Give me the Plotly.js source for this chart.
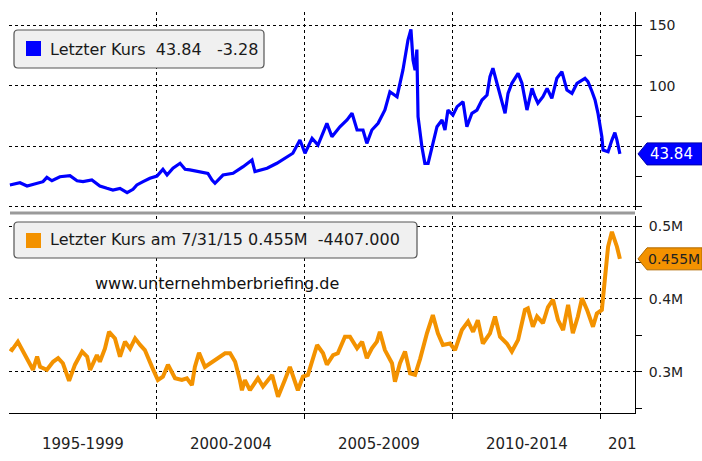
<!DOCTYPE html>
<html>
<head>
<meta charset="utf-8">
<script src="https://cdn.plot.ly/plotly-3.0.1.min.js"></script>
<style>html,body{margin:0;padding:0;background:#fff}#chart{width:702px;height:461px}</style>
</head>
<body>
<div id="chart"></div>
<script>
// ---- data ----
const priceYears = [1995.03,1995.37,1995.61,1995.95,1996.15,1996.28,1996.45,1996.72,1997.06,1997.30,1997.50,1997.80,1998.07,1998.31,1998.51,1998.75,1998.99,1999.19,1999.32,1999.53,1999.76,2000.00,2000.20,2000.34,2000.54,2000.78,2000.95,2001.11,2001.45,2001.72,2001.86,2001.96,2002.23,2002.57,2002.91,2003.21,2003.31,2003.72,2004.05,2004.39,2004.59,2004.83,2005.00,2005.24,2005.44,2005.74,2005.91,2006.18,2006.42,2006.59,2006.76,2006.96,2007.09,2007.26,2007.47,2007.70,2007.87,2008.11,2008.31,2008.48,2008.58,2008.65,2008.72,2008.78,2008.82,2008.95,2009.05,2009.16,2009.29,2009.46,2009.63,2009.73,2009.83,2010.00,2010.14,2010.34,2010.47,2010.64,2010.81,2010.98,2011.15,2011.25,2011.35,2011.49,2011.66,2011.76,2011.86,2011.99,2012.20,2012.33,2012.50,2012.67,2012.77,2012.87,2013.04,2013.18,2013.34,2013.51,2013.68,2013.85,2014.02,2014.19,2014.46,2014.56,2014.70,2014.80,2014.90,2015.03,2015.07,2015.24,2015.37,2015.47,2015.54,2015.64];
const price = [18.2,20,17.3,19.6,20.9,24.5,21.7,25,25.9,21.7,20.9,22.3,17.3,15.4,14,15.4,11.8,14.6,18.2,20.9,23.7,25.6,31.1,26.4,32,36.1,31.1,30.6,29.2,27.8,22.3,19.6,26.4,27.8,33.3,38.8,29.2,32,36.1,41.5,44.4,55.3,44.4,56.7,51.2,69.1,58.1,66.3,71.9,77.4,63.6,63.6,52.6,63.6,69.1,80.1,95.2,91.1,113.2,137.9,146.8,121.4,113,130,74.6,49.8,36.1,36.1,49.8,66.3,71.9,63.6,80.1,76,82.9,87,66.3,77.4,80.1,88.4,92.5,107.6,114.6,102.2,88.4,77.4,93.9,102.2,110.4,102.2,80.1,98,91.1,85.7,91.1,98,89.8,106.3,111.8,96.6,93.9,102.2,106.3,103.5,95.2,88.4,77.4,58.1,47.1,45.7,55.3,61.4,55.3,43.84];

const volYears = [1995.03,1995.10,1995.30,1995.47,1995.64,1995.81,1995.95,1996.05,1996.28,1996.49,1996.66,1996.82,1997.03,1997.23,1997.47,1997.64,1997.74,1997.97,1998.07,1998.24,1998.38,1998.58,1998.75,1998.92,1999.09,1999.26,1999.43,1999.59,1999.83,2000.03,2000.20,2000.37,2000.61,2000.84,2001.01,2001.18,2001.28,2001.42,2001.62,2001.79,2002.03,2002.30,2002.47,2002.64,2002.80,2002.87,2002.97,2003.14,2003.41,2003.58,2003.89,2004.09,2004.32,2004.49,2004.76,2004.93,2005.10,2005.41,2005.61,2005.74,2005.95,2006.11,2006.35,2006.52,2006.76,2006.93,2007.09,2007.26,2007.43,2007.53,2007.70,2007.94,2008.04,2008.21,2008.38,2008.55,2008.72,2008.89,2009.12,2009.32,2009.49,2009.66,2009.90,2010.07,2010.30,2010.51,2010.68,2010.84,2011.01,2011.25,2011.42,2011.59,2011.82,2011.99,2012.20,2012.43,2012.53,2012.70,2012.84,2013.04,2013.21,2013.38,2013.55,2013.72,2013.89,2014.05,2014.22,2014.36,2014.53,2014.73,2014.86,2015.03,2015.14,2015.24,2015.37,2015.54,2015.64];
const volume = [332000,330000,341500,328000,314000,303000,321000,307000,303000,314000,319000,312000,288000,310000,328000,321000,303000,323000,314000,332000,355000,346000,321000,341500,332000,346000,337000,330000,307000,289000,293600,310000,291400,289000,291400,282000,307000,326400,307000,312000,319000,325600,325600,314000,289000,275000,289000,275000,291400,280000,296000,266000,289000,307000,275000,293600,296000,337000,325600,310000,323000,325600,348400,348400,332500,341500,319000,332500,341500,355000,330000,312000,286700,312000,328000,298000,296000,318000,353000,378000,353000,337000,339000,330000,357500,369000,355000,371000,339000,353000,376000,348400,339000,328000,344000,385000,387000,362000,376000,367000,389000,399000,371000,357500,392000,353000,376000,401000,385000,362000,380000,385000,430500,471600,492000,471600,455000];

const periodMid = [1997.5,2002.5,2007.5,2012.5,2015.74];
const periodLabels = ['1995-1999','2000-2004','2005-2009','2010-2014','201'];
const gridYears = [2000,2005,2010,2015];

const priceTicks = [0,50,100,150];
const priceTickText = ['','','100','150'];
const priceMinor = [25,75,125];
const volTicks = [300000,400000,500000];
const volTickText = ['0.3M','0.4M','0.5M'];
const volMinor = [250000,350000,450000];

const priceName = 'Letzter Kurs';
const priceLast = '43.84';
const priceChange = '-3.28';
const volName = 'Letzter Kurs am 7/31/15';
const volLast = '0.455M';
const volChange = '-4407.000';
const watermark = 'www.unternehmberbriefing.de';

// ---- styling / layout ----
const W = 702, H = 461;
const BLUE = '#0000ff', ORANGE = '#f39200';
const FONT = 'DejaVu Sans, sans-serif';
const xL = 9, xR = 635;
const xRange = [1995.0, 2016.15];
const top1 = 12, bot1 = 210, top2 = 216, bot2 = 413;
const yRange1 = [-2.5, 161.1];
const yRange2 = [243800, 513700];

const px = x => x / W;
const py = y => 1 - y / H;
const pxPerYear = (xR - xL) / (xRange[1] - xRange[0]);
const px1 = (bot1 - top1) / (yRange1[1] - yRange1[0]);
const px2 = (bot2 - top2) / (yRange2[1] - yRange2[0]);
const triX = xRange[1] + 5 / pxPerYear;

function roundRect(x0, y0, x1, y1, r) {
  const P = (x, y) => px(x).toFixed(5) + ',' + py(y).toFixed(5);
  return 'M' + P(x0 + r, y0) + ' L' + P(x1 - r, y0) + ' Q' + P(x1, y0) + ' ' + P(x1, y0 + r) +
    ' L' + P(x1, y1 - r) + ' Q' + P(x1, y1) + ' ' + P(x1 - r, y1) +
    ' L' + P(x0 + r, y1) + ' Q' + P(x0, y1) + ' ' + P(x0, y1 - r) +
    ' L' + P(x0, y0 + r) + ' Q' + P(x0, y0) + ' ' + P(x0 + r, y0) + ' Z';
}
function priceTag(val, pxPerUnit) {
  const h = 11 / pxPerUnit;
  const P = (x, y) => px(x).toFixed(5) + ',' + y;
  return 'M' + P(638, val) + ' L' + P(647, val + h) + ' L' + P(702, val + h) +
    ' L' + P(702, val - h) + ' L' + P(647, val - h) + ' Z';
}

const lastPrice = price[price.length - 1];
const lastVol = volume[volume.length - 1];

const traces = [
  {x: priceYears, y: price, xaxis: 'x', yaxis: 'y', type: 'scatter', mode: 'lines',
   line: {color: BLUE, width: 3.2}, hoverinfo: 'skip'},
  {x: volYears, y: volume, xaxis: 'x2', yaxis: 'y2', type: 'scatter', mode: 'lines',
   line: {color: ORANGE, width: 4}, hoverinfo: 'skip'},
  {x: priceTicks.map(() => triX), y: priceTicks, xaxis: 'x', yaxis: 'y', type: 'scatter', mode: 'markers',
   marker: {symbol: 'triangle-right', size: 9, color: '#000'}, cliponaxis: false, hoverinfo: 'skip'},
  {x: volTicks.map(() => triX), y: volTicks, xaxis: 'x2', yaxis: 'y2', type: 'scatter', mode: 'markers',
   marker: {symbol: 'triangle-right', size: 9, color: '#000'}, cliponaxis: false, hoverinfo: 'skip'}
];

const gridStyle = {showgrid: true, gridcolor: '#000', griddash: 'dot', gridwidth: 1};
const tickFont = {family: FONT, size: 14, color: '#222'};

const layout = {
  width: W, height: H,
  margin: {l: 0, r: 0, t: 0, b: 0},
  paper_bgcolor: '#fff', plot_bgcolor: '#fff',
  showlegend: false,
  xaxis: Object.assign({domain: [px(xL), px(xR)], range: xRange, anchor: 'y', tickmode: 'array',
    tickvals: gridYears, showticklabels: false, ticks: '', zeroline: false, showline: false, fixedrange: true}, gridStyle),
  yaxis: Object.assign({domain: [py(bot1), py(top1)], range: yRange1, anchor: 'x', side: 'right',
    tickmode: 'array', tickvals: priceTicks, ticktext: priceTickText, ticks: 'outside', ticklen: 6, tickcolor: '#000',
    ticklabelstandoff: 4, tickfont: tickFont, showline: true, linecolor: '#000', linewidth: 1, zeroline: false,
    minor: {tickmode: 'array', tickvals: priceMinor, ticks: 'outside', ticklen: 6, tickcolor: '#000', showgrid: false}}, gridStyle),
  xaxis2: Object.assign({domain: [px(xL), px(xR)], range: xRange, anchor: 'y2', tickmode: 'array',
    tickvals: gridYears, showticklabels: false, ticks: 'outside', ticklen: 5, tickcolor: '#000',
    zeroline: false, showline: true, linecolor: '#000', linewidth: 1}, gridStyle),
  yaxis2: Object.assign({domain: [py(bot2), py(top2)], range: yRange2, anchor: 'x2', side: 'right',
    tickmode: 'array', tickvals: volTicks, ticktext: volTickText, ticks: 'outside', ticklen: 6, tickcolor: '#000',
    ticklabelstandoff: 4, tickfont: tickFont, showline: true, linecolor: '#000', linewidth: 1, zeroline: false,
    minor: {tickmode: 'array', tickvals: volMinor, ticks: 'outside', ticklen: 6, tickcolor: '#000', showgrid: false}}, gridStyle),
  shapes: [
    {type: 'line', xref: 'paper', yref: 'paper', x0: px(10), x1: px(xR), y0: py(213), y1: py(213),
     line: {color: '#9a9a9a', width: 3}},
    {type: 'path', xref: 'paper', yref: 'paper', path: roundRect(14, 30, 264, 68, 4),
     fillcolor: '#f0f0f0', line: {color: '#555', width: 1.2}},
    {type: 'rect', xref: 'paper', yref: 'paper', x0: px(26), x1: px(41), y0: py(56), y1: py(41),
     fillcolor: BLUE, line: {width: 0}},
    {type: 'path', xref: 'paper', yref: 'paper', path: roundRect(14, 222, 417, 258, 4),
     fillcolor: '#f0f0f0', line: {color: '#555', width: 1.2}},
    {type: 'rect', xref: 'paper', yref: 'paper', x0: px(26), x1: px(41), y0: py(248), y1: py(233),
     fillcolor: ORANGE, line: {width: 0}},
    {type: 'path', xref: 'paper', yref: 'y', path: priceTag(lastPrice, px1), fillcolor: BLUE,
     line: {color: '#0000aa', width: 1}, layer: 'above'},
    {type: 'path', xref: 'paper', yref: 'y2', path: priceTag(lastVol, px2), fillcolor: ORANGE,
     line: {color: '#b06a00', width: 1}, layer: 'above'}
  ],
  annotations: [
    {xref: 'paper', yref: 'paper', x: px(48), y: py(49), xanchor: 'left', yanchor: 'middle', showarrow: false,
     text: priceName + '  ' + priceLast + '   ' + priceChange, font: {family: FONT, size: 16, color: '#1a1a1a'}},
    {xref: 'paper', yref: 'paper', x: px(48), y: py(240), xanchor: 'left', yanchor: 'middle', showarrow: false,
     text: volName + ' ' + volLast + '  ' + volChange, font: {family: FONT, size: 16, color: '#1a1a1a'}},
    {xref: 'paper', yref: 'paper', x: px(93), y: py(283), xanchor: 'left', yanchor: 'middle', showarrow: false,
     text: watermark, font: {family: FONT, size: 16, color: '#111'}},
    {xref: 'paper', yref: 'y', x: px(648), y: lastPrice, xanchor: 'left', yanchor: 'middle', showarrow: false,
     text: priceLast, font: {family: FONT, size: 15, color: '#fff'}},
    {xref: 'paper', yref: 'y2', x: px(646), y: lastVol, xanchor: 'left', yanchor: 'middle', showarrow: false,
     text: volLast, font: {family: FONT, size: 14, color: '#222'}}
  ].concat(periodMid.map((m, i) => ({
     xref: 'x2', yref: 'paper', x: m, y: py(444), xanchor: 'center', yanchor: 'middle', showarrow: false,
     text: periodLabels[i], font: {family: FONT, size: 15, color: '#222'}})))
};

Plotly.newPlot('chart', traces, layout, {staticPlot: true, displayModeBar: false});
</script>
</body>
</html>
